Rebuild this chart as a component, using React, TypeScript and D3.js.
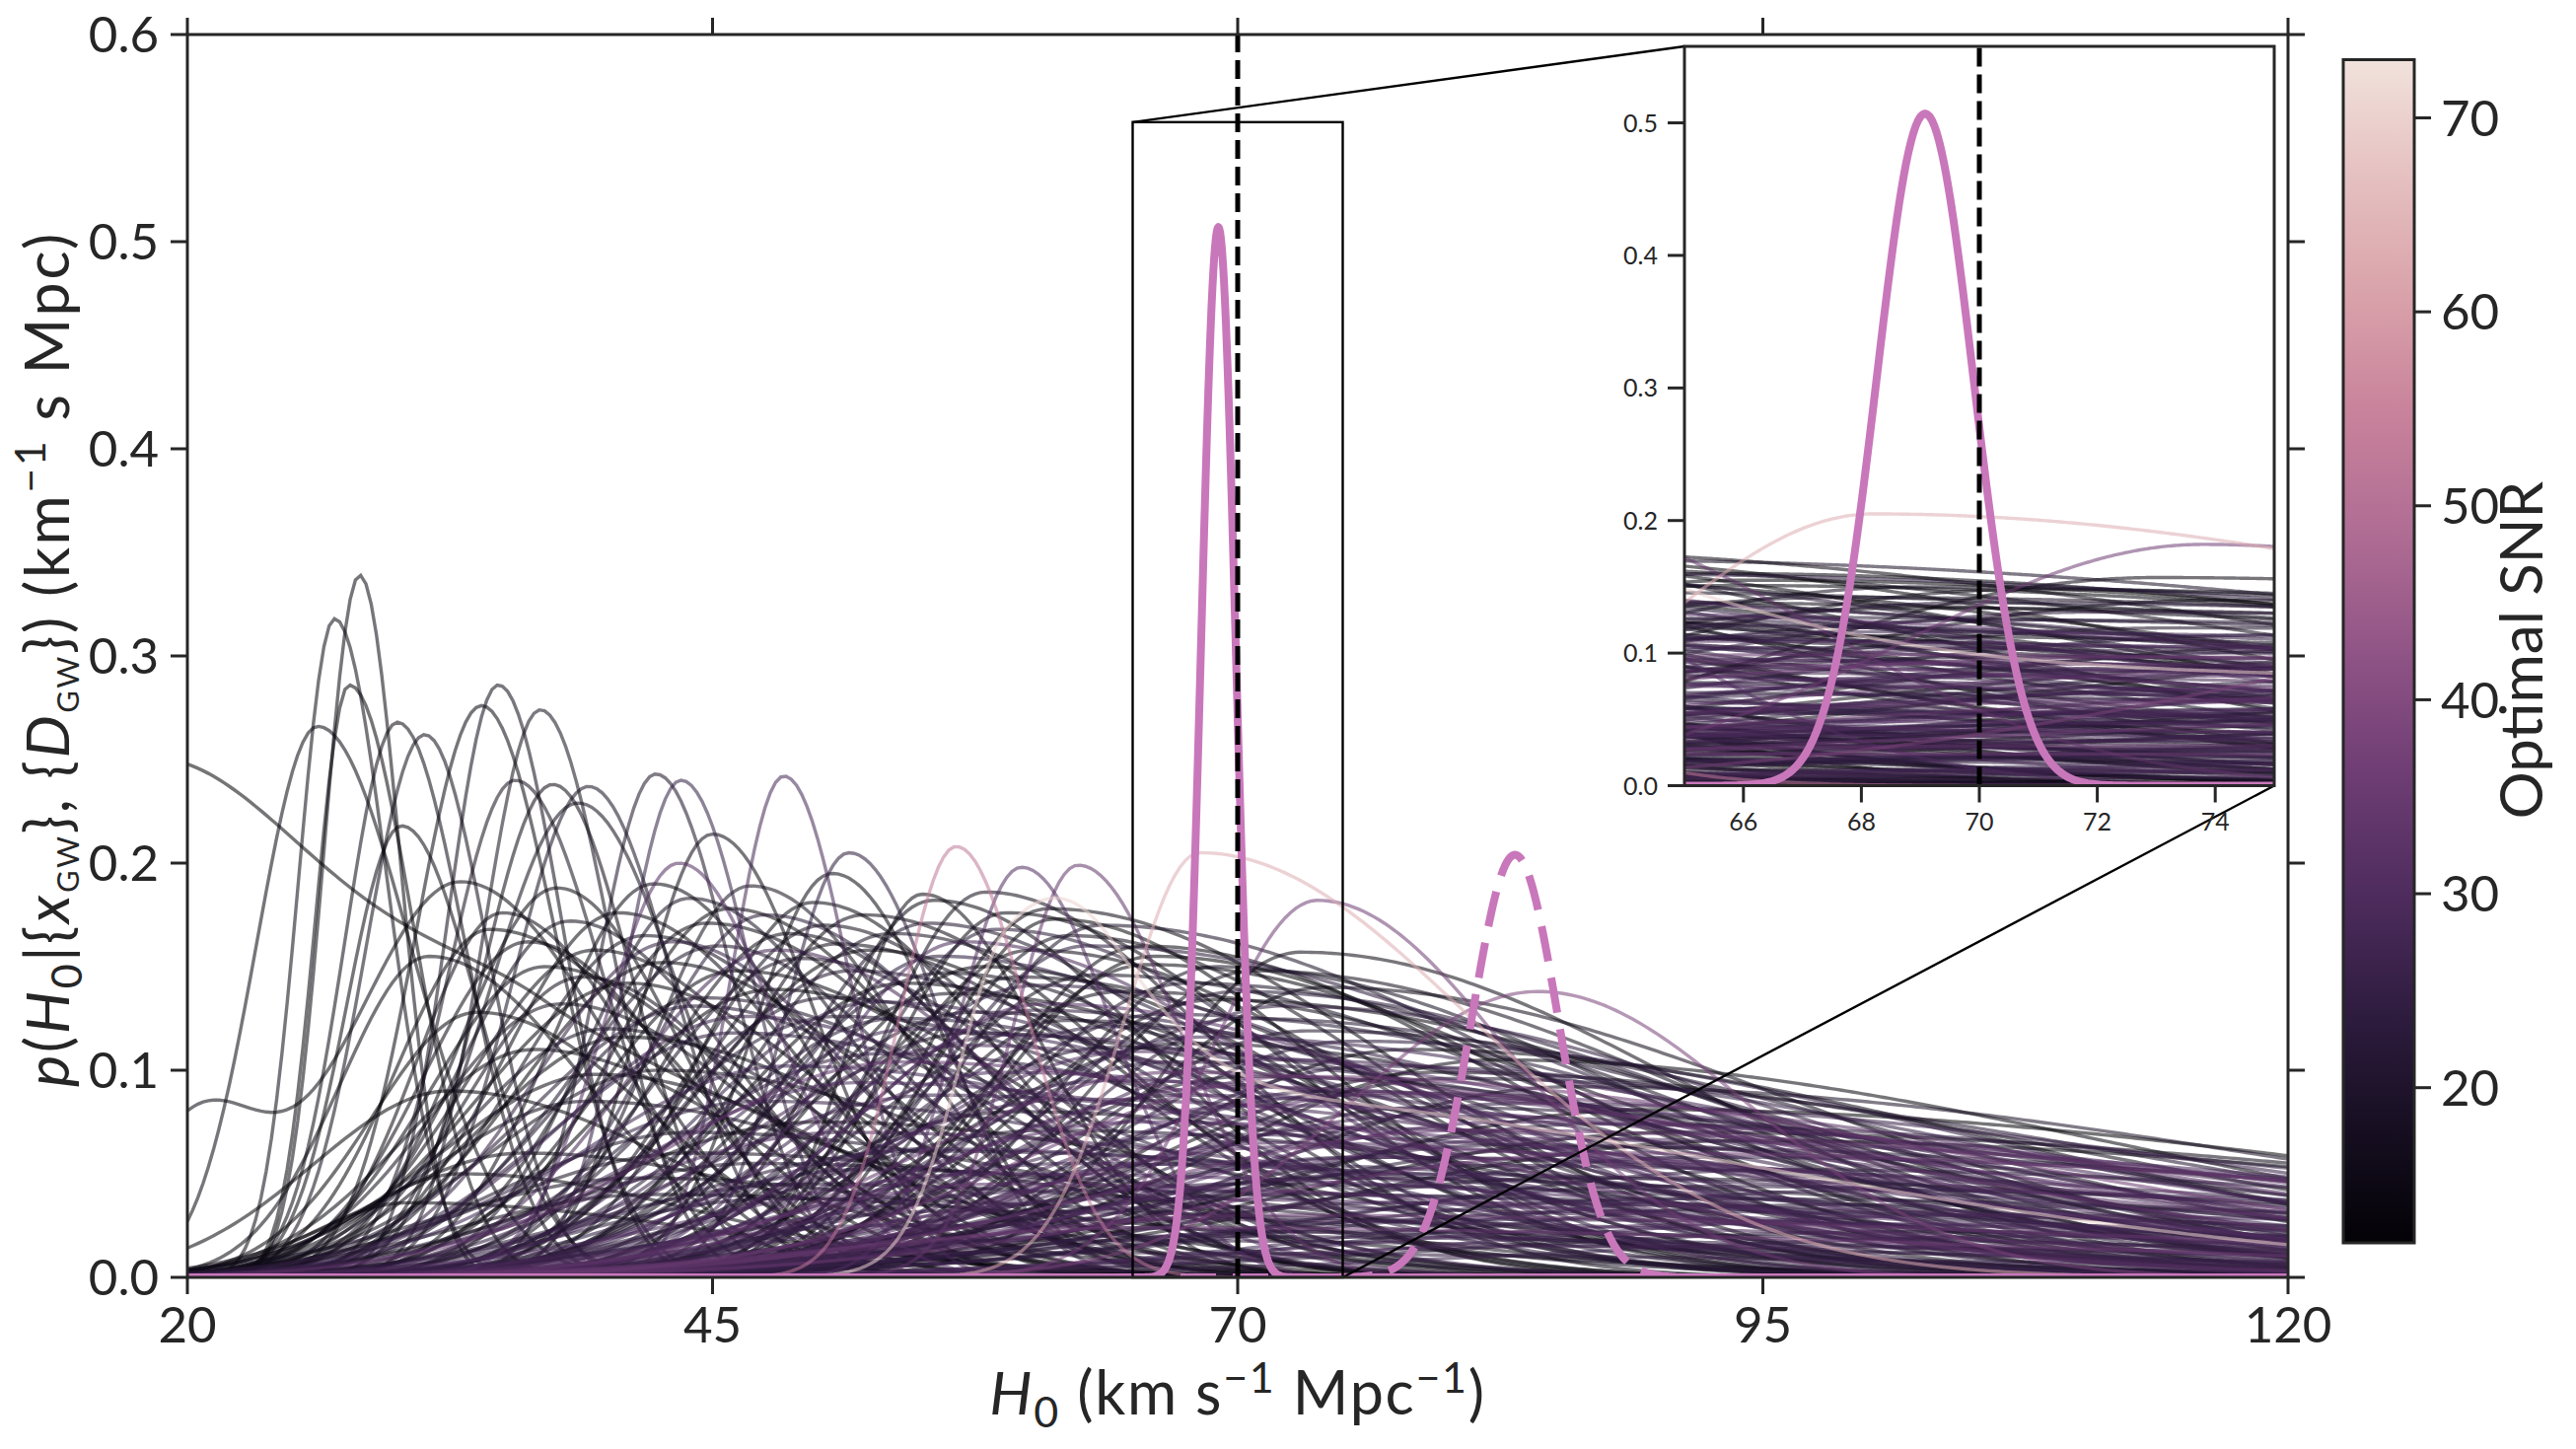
import React from "react";
import * as d3 from "d3";

// ---- figure geometry (px) ----
const W = 2612;
const H = 1469;
const frame = { left: 190, right: 2320, top: 35, bottom: 1295 };
const insetFrame = { left: 1708, right: 2306, top: 47, bottom: 796.5 };
const cbar = { left: 2376, right: 2448, top: 60.5, bottom: 1260 };

const ink = "#262626";
const font = "Lato, 'Liberation Sans', sans-serif";

// ---- axes ----
const h0Domain = [20, 120];
const pDomain = [0, 0.6];
const xTicks = [20, 45, 70, 95, 120];
const yTicks = [0, 0.1, 0.2, 0.3, 0.4, 0.5, 0.6];
const zoomWindow = [65, 75];
const insetPMax = 0.5577;
const insetXTicks = [66, 68, 70, 72, 74];
const insetYTicks = [0, 0.1, 0.2, 0.3, 0.4, 0.5];
const trueH0 = 70;

// ---- colour bar ----
const snrDomain = [12, 73];
const snrTicks = [20, 30, 40, 50, 60, 70];
const snrPalette = [
  "#030206", "#170f22", "#301d41", "#502d5f", "#6f3e74", "#905486",
  "#b06d94", "#c8829b", "#d9a2aa", "#e5c0c0", "#f1e2dc",
];

// ---- combined posteriors: [centre, peak, sigma] ----
const combined = [69.08, 0.507, 0.82];
const combinedBiased = [83.2, 0.204, 2.08];
const pink = "#c977bb";

// ---- single-event posteriors ----
// [centre, peak, left width, right width, optimal SNR]
const lowH0Peaks = [
  [28.2, 0.339, 1.7, 1.9, 13],
  [27.0, 0.318, 1.7, 2.5, 14],
  [27.7, 0.286, 1.6, 3.0, 12],
  [26.2, 0.266, 2.9, 4.4, 13],
  [30.0, 0.268, 2.5, 3.2, 14],
  [31.3, 0.262, 2.8, 3.0, 15],
  [34.8, 0.286, 2.4, 3.0, 15],
  [34.0, 0.276, 3.1, 3.5, 13],
  [36.8, 0.274, 2.7, 3.3, 16],
  [30.2, 0.218, 2.6, 3.6, 13],
  [35.6, 0.24, 3.2, 4.2, 16],
  [37.4, 0.238, 3.4, 3.8, 14],
  [39.1, 0.237, 3.6, 4.0, 17],
  [38.6, 0.229, 4.2, 4.8, 15],
  [42.3, 0.243, 2.8, 3.6, 18],
  [43.5, 0.24, 2.7, 3.4, 24],
  [48.4, 0.242, 2.5, 3.1, 28],
  [45.0, 0.214, 3.4, 4.8, 14],
  [51.5, 0.205, 3.1, 4.4, 22],
  [50.7, 0.195, 3.8, 5.2, 13],
  [43.4, 0.2, 3.6, 4.7, 30],
  [37.6, 0.188, 4.6, 5.8, 13],
  [55.0, 0.185, 3.5, 5.7, 14],
  [59.7, 0.198, 3.1, 4.4, 30],
  [62.4, 0.199, 3.1, 4.8, 33],
];

const loudEvents = [
  [56.6, 0.208, 2.7, 3.4, 52],
  [68.2, 0.205, 3.6, 13, 63],
  [73.8, 0.182, 5.0, 9, 36],
  [84.3, 0.138, 9, 10, 38],
];

// events whose posterior has more than one bump: SNR, then [centre, peak, left, right] parts
const multiBump = [
  { snr: 12, parts: [[18, 0.248, 5, 9.5], [37, 0.1, 7, 14]] },
  { snr: 13, parts: [[20.5, 0.073, 3, 3], [33.0, 0.191, 5.2, 7]] },
  { snr: 70, parts: [[59.0, 0.12, 2.4, 5], [64, 0.09, 4.5, 30]] },
];

const midPeaks = [
  [40.5, 0.176, 5.4, 8.5, 13], [41.8, 0.165, 6.0, 9.5, 15], [42.6, 0.152, 6.8, 10.5, 12],
  [43.9, 0.183, 4.9, 8.0, 17], [44.7, 0.171, 5.8, 11.0, 14], [45.3, 0.16, 7.0, 9.0, 19],
  [46.1, 0.148, 6.6, 12.5, 13], [46.8, 0.189, 4.6, 7.5, 16], [47.5, 0.175, 5.6, 10.0, 21],
  [47.9, 0.139, 7.8, 13.0, 12], [48.6, 0.166, 6.1, 9.5, 15], [49.2, 0.154, 7.0, 11.5, 18],
  [49.8, 0.181, 5.3, 8.8, 13], [39.4, 0.158, 6.0, 9.0, 14], [41.0, 0.142, 7.2, 10.0, 12],
  [42.2, 0.19, 4.8, 7.0, 13], [44.2, 0.131, 8.0, 12.0, 20], [45.8, 0.178, 5.6, 9.2, 12],
  [38.2, 0.172, 5.1, 7.8, 15], [43.1, 0.162, 6.4, 8.6, 23], [46.5, 0.126, 8.4, 14.0, 25],
  [48.0, 0.158, 7.0, 10.8, 27], [50.3, 0.17, 6.2, 10.2, 16], [37.0, 0.15, 5.4, 9.5, 13],
  [36.2, 0.162, 4.9, 7.2, 14], [40.0, 0.12, 6.8, 11.0, 17],
];

const centralPeaks = [
  [50.9, 0.161, 6.6, 13.0, 15], [51.6, 0.148, 7.4, 15.5, 20], [52.2, 0.175, 6.0, 12.0, 14],
  [52.8, 0.133, 8.2, 18.0, 24], [53.5, 0.166, 6.8, 14.0, 17], [54.1, 0.142, 7.8, 16.5, 13],
  [54.6, 0.12, 9.0, 20.0, 26], [55.2, 0.171, 6.3, 13.5, 19], [55.8, 0.155, 7.1, 17.0, 22],
  [56.3, 0.137, 8.4, 19.0, 15], [56.9, 0.162, 6.6, 15.0, 28], [57.4, 0.128, 8.9, 21.0, 18],
  [57.9, 0.15, 7.6, 16.0, 13], [58.5, 0.168, 6.0, 14.5, 21], [59.1, 0.117, 9.7, 23.0, 25],
  [59.6, 0.145, 7.9, 18.5, 16], [60.2, 0.158, 7.0, 16.0, 14], [60.8, 0.132, 8.6, 20.5, 30],
  [61.3, 0.173, 5.7, 12.5, 12], [61.9, 0.124, 9.4, 22.0, 19], [53.0, 0.108, 9.9, 22.0, 23],
  [55.5, 0.182, 5.2, 10.5, 13], [57.0, 0.112, 10.4, 24.0, 27], [58.0, 0.186, 5.0, 11.0, 15],
  [51.0, 0.126, 8.8, 17.0, 21], [52.5, 0.158, 7.7, 12.5, 12], [54.0, 0.104, 11.0, 25.0, 32],
  [56.0, 0.147, 8.2, 15.0, 17], [59.0, 0.176, 5.5, 13.0, 13], [60.5, 0.141, 8.8, 19.0, 24],
  [62.0, 0.165, 6.6, 15.0, 16], [61.0, 0.178, 5.9, 16.0, 14], [63.5, 0.17, 6.6, 20.0, 18],
  [62.8, 0.16, 7.1, 24.0, 22],
];

const highH0Peaks = [
  [63.2, 0.146, 8.2, 22.0, 17], [63.8, 0.121, 9.9, 26.0, 24], [64.5, 0.138, 9.0, 24.0, 15],
  [65.1, 0.109, 11.0, 29.0, 29], [65.7, 0.151, 7.7, 20.0, 13], [66.4, 0.127, 9.7, 27.0, 21],
  [67.0, 0.099, 12.1, 31.0, 33], [67.6, 0.142, 8.4, 23.0, 18], [68.3, 0.116, 10.6, 28.0, 26],
  [68.9, 0.134, 9.2, 25.0, 14], [69.5, 0.092, 13.2, 33.0, 31], [70.2, 0.125, 9.9, 26.0, 20],
  [70.8, 0.148, 7.9, 21.0, 16], [71.5, 0.105, 11.6, 30.0, 27], [72.1, 0.131, 9.5, 24.0, 23],
  [72.8, 0.097, 12.6, 32.0, 35], [73.4, 0.119, 10.3, 27.0, 19], [74.1, 0.14, 8.6, 22.5, 15],
  [74.8, 0.088, 13.8, 34.0, 28], [75.5, 0.114, 11.2, 29.0, 22], [66.0, 0.155, 7.3, 18.0, 12],
  [69.0, 0.15, 7.5, 19.5, 17], [71.0, 0.083, 14.3, 35.0, 30], [64.0, 0.095, 12.1, 30.0, 25],
  [67.5, 0.113, 10.8, 24.0, 16], [73.0, 0.157, 6.8, 18.0, 14], [65.5, 0.16, 7.0, 17.0, 13],
  [70.0, 0.138, 8.8, 23.0, 21],
];

const tailPeaks = [
  [76.4, 0.102, 12.1, 30.0, 24], [77.2, 0.089, 13.8, 34.0, 31], [78.1, 0.11, 11.6, 28.0, 14],
  [79.0, 0.078, 15.4, 38.0, 27], [80.2, 0.096, 13.2, 33.0, 20], [81.1, 0.071, 16.5, 42.0, 33],
  [82.3, 0.105, 12.7, 30.0, 13], [83.5, 0.084, 14.9, 36.0, 25], [84.6, 0.067, 17.6, 44.0, 29],
  [85.8, 0.092, 14.1, 35.0, 18], [87.0, 0.074, 16.0, 40.0, 23], [88.3, 0.06, 18.7, 45.0, 34],
  [89.5, 0.081, 16.5, 38.0, 12], [91.0, 0.07, 17.6, 42.0, 15], [92.5, 0.058, 19.8, 44.0, 26],
  [94.0, 0.066, 18.7, 40.0, 13], [79.5, 0.099, 13.0, 31.0, 16], [86.5, 0.063, 17.0, 43.0, 21],
  [83.0, 0.075, 15.4, 37.0, 30], [96.0, 0.052, 19.8, 40.0, 22],
];

const flatPosteriors = [
  [55.0, 0.062, 9.9, 30.0, 26], [58.5, 0.045, 11.0, 35.0, 31], [61.0, 0.071, 12.1, 28.0, 20],
  [64.5, 0.038, 13.2, 40.0, 28], [68.0, 0.055, 14.3, 33.0, 24], [71.5, 0.03, 15.4, 45.0, 33],
  [74.5, 0.048, 13.8, 38.0, 19], [78.0, 0.036, 16.5, 48.0, 27], [52.0, 0.052, 9.4, 26.0, 22],
  [66.0, 0.024, 14.3, 42.0, 35], [59.5, 0.08, 10.5, 24.0, 17], [72.0, 0.065, 12.7, 30.0, 29],
  [63.0, 0.02, 11.0, 50.0, 24], [76.0, 0.058, 14.9, 36.0, 21],
];

const earlyBroad = [
  [31.5, 0.155, 4.2, 7.5, 13], [33.8, 0.128, 5.0, 8.5, 12], [35.0, 0.176, 4.0, 6.5, 14],
  [36.5, 0.11, 6.2, 10.5, 13], [38.8, 0.145, 5.4, 8.0, 15], [32.5, 0.09, 6.5, 11.0, 12],
  [39.5, 0.098, 7.5, 12.0, 14], [34.4, 0.168, 4.4, 9.0, 12], [37.8, 0.132, 6.0, 9.5, 16],
  [40.8, 0.116, 7.0, 13.0, 13], [33.0, 0.05, 5.0, 12.0, 13], [30.5, 0.036, 4.5, 15.0, 12],
  [36.0, 0.06, 7.0, 14.0, 14], [41.5, 0.048, 9.5, 18.0, 17], [39.0, 0.085, 7.5, 15.0, 15],
];

const purpleBulk = [
  [46.0, 0.118, 8.5, 18.0, 22], [48.5, 0.102, 9.5, 22.0, 26], [50.5, 0.135, 7.8, 16.0, 19],
  [52.0, 0.094, 10.5, 26.0, 28], [53.8, 0.125, 8.6, 20.0, 21], [55.6, 0.088, 11.0, 28.0, 25],
  [57.3, 0.118, 9.2, 23.0, 18], [58.8, 0.099, 10.2, 27.0, 29], [60.4, 0.129, 8.4, 21.5, 23],
  [62.2, 0.086, 11.8, 30.0, 27], [63.9, 0.111, 9.6, 25.0, 20], [65.3, 0.075, 12.4, 33.0, 30],
  [66.8, 0.104, 10.4, 27.5, 24], [68.6, 0.069, 13.2, 36.0, 26], [70.5, 0.097, 11.2, 29.0, 19],
  [72.4, 0.063, 14.0, 38.0, 31], [74.2, 0.09, 12.0, 31.0, 23], [76.8, 0.058, 15.2, 41.0, 28],
  [78.9, 0.082, 13.0, 34.0, 21], [81.5, 0.054, 16.5, 45.0, 25], [44.5, 0.135, 7.0, 14.0, 18],
  [47.2, 0.085, 10.0, 24.0, 24], [51.2, 0.07, 11.0, 30.0, 27], [54.8, 0.061, 12.0, 35.0, 22],
  [58.2, 0.05, 13.0, 40.0, 29], [61.7, 0.042, 14.0, 46.0, 26], [49.0, 0.045, 10.0, 28.0, 20],
  [56.5, 0.032, 12.0, 36.0, 23], [64.8, 0.028, 14.0, 44.0, 27], [71.8, 0.04, 15.0, 40.0, 21],
  [86.0, 0.048, 17.0, 42.0, 19], [90.5, 0.044, 18.0, 46.0, 24], [100.0, 0.042, 20.0, 40.0, 26],
  [98.0, 0.035, 19.0, 45.0, 22], [105.0, 0.03, 22.0, 40.0, 28], [42.5, 0.1, 8.0, 16.0, 16],
  [44.0, 0.07, 9.0, 20.0, 18], [67.3, 0.088, 11.5, 26.0, 25], [75.2, 0.072, 13.5, 33.0, 27],
  [82.8, 0.064, 15.5, 38.0, 23],
];

const faintPosteriors = [
  [48.0, 0.038, 9.0, 30.0, 21], [53.0, 0.025, 10.0, 40.0, 25], [60.0, 0.018, 12.0, 45.0, 23],
  [67.0, 0.034, 13.0, 42.0, 27], [73.0, 0.022, 14.0, 48.0, 22], [80.0, 0.028, 16.0, 50.0, 26],
  [88.0, 0.032, 18.0, 45.0, 24], [95.0, 0.026, 20.0, 50.0, 28], [102.0, 0.022, 22.0, 40.0, 21],
  [110.0, 0.02, 24.0, 35.0, 25], [57.0, 0.012, 11.0, 50.0, 23], [85.0, 0.015, 17.0, 55.0, 27],
  [44.0, 0.06, 9.5, 22.0, 16], [47.0, 0.055, 10.0, 26.0, 19], [50.0, 0.075, 10.5, 22.0, 14],
  [42.0, 0.04, 9.0, 25.0, 15], [62.0, 0.055, 12.5, 38.0, 26], [70.0, 0.045, 14.5, 42.0, 22],
  [77.0, 0.05, 15.5, 40.0, 25], [91.0, 0.038, 19.0, 48.0, 21],
];

type Part = number[];
const evalParts = (parts: Part[], h0: number) =>
  d3.sum(parts, ([c, p, wl, wr]) => p * Math.exp(-0.5 * ((h0 - c) / (h0 < c ? wl : wr)) ** 2));

const events = [
  ...[
    lowH0Peaks, loudEvents, midPeaks, centralPeaks, highH0Peaks,
    tailPeaks, flatPosteriors, earlyBroad, purpleBulk, faintPosteriors,
  ]
    .flat()
    .map(([c, p, wl, wr, snr]) => ({ snr, parts: [[c, p, wl, wr]] })),
  ...multiBump,
].sort((a, b) => a.snr - b.snr);

const snrColor = d3
  .scaleLinear<string>()
  .domain(snrPalette.map((_, i) => snrDomain[0] + ((snrDomain[1] - snrDomain[0]) * i) / (snrPalette.length - 1)))
  .range(snrPalette)
  .interpolate(d3.interpolateRgb);

export default function App() {
  const x = d3.scaleLinear().domain(h0Domain).range([frame.left, frame.right]);
  const y = d3.scaleLinear().domain(pDomain).range([frame.bottom, frame.top]);
  const xi = d3.scaleLinear().domain(zoomWindow).range([insetFrame.left, insetFrame.right]);
  const yi = d3.scaleLinear().domain([0, insetPMax]).range([insetFrame.bottom, insetFrame.top]);
  const yc = d3.scaleLinear().domain(snrDomain).range([cbar.bottom, cbar.top]);

  const grid = d3.range(h0Domain[0], h0Domain[1] + 1e-9, 0.25);
  const fineGrid = d3.range(h0Domain[0], h0Domain[1] + 1e-9, 0.04);
  const insetGrid = d3.range(zoomWindow[0], zoomWindow[1] + 1e-9, 0.04);

  const mainLine = d3.line<[number, number]>().x((d) => x(d[0])).y((d) => y(d[1]));
  const insetLine = d3.line<[number, number]>().x((d) => xi(d[0])).y((d) => yi(d[1]));

  const gaussParts = (g: number[]) => [[g[0], g[1], g[2], g[2]]];
  const combinedMain = mainLine(fineGrid.map((h) => [h, evalParts(gaussParts(combined), h)]));
  const biasedMain = mainLine(fineGrid.map((h) => [h, evalParts(gaussParts(combinedBiased), h)]));
  const combinedInset = insetLine(insetGrid.map((h) => [h, evalParts(gaussParts(combined), h)]));

  const tickLen = 17;
  const tickFont = 51;
  const labelFont = 61;

  return (
    <svg
      width={W}
      height={H}
      viewBox={`0 0 ${W} ${H}`}
      style={{ position: "absolute", left: 0, top: 0, background: "#fff" }}
      fontFamily={font}
    >
      <defs>
        <clipPath id="mainClip">
          <rect x={frame.left} y={frame.top} width={frame.right - frame.left} height={frame.bottom - frame.top} />
        </clipPath>
        <clipPath id="insetClip">
          <rect
            x={insetFrame.left}
            y={insetFrame.top}
            width={insetFrame.right - insetFrame.left}
            height={insetFrame.bottom - insetFrame.top}
          />
        </clipPath>
        <linearGradient id="snrGrad" x1="0" y1="1" x2="0" y2="0">
          {snrPalette.map((c, i) => (
            <stop key={i} offset={i / (snrPalette.length - 1)} stopColor={c} />
          ))}
        </linearGradient>
      </defs>

      {/* main panel */}
      <g clipPath="url(#mainClip)">
        {events.map((e, i) => (
          <path
            key={i}
            d={mainLine(grid.map((h) => [h, evalParts(e.parts, h)])) || ""}
            fill="none"
            stroke={snrColor(e.snr)}
            strokeOpacity={0.55}
            strokeWidth={3.4}
          />
        ))}
        <path d={combinedMain || ""} fill="none" stroke={pink} strokeWidth={8} strokeLinejoin="round" />
        <path d={biasedMain || ""} fill="none" stroke={pink} strokeWidth={8} strokeDasharray="36 17" />
        <line x1={x(trueH0)} x2={x(trueH0)} y1={y(0)} y2={frame.top} stroke="#000" strokeWidth={5} strokeDasharray="19 8" />
      </g>

      {/* zoom indicator */}
      <rect
        x={x(zoomWindow[0])}
        y={y(insetPMax)}
        width={x(zoomWindow[1]) - x(zoomWindow[0])}
        height={y(0) - y(insetPMax)}
        fill="none"
        stroke="#000"
        strokeWidth={2.4}
      />
      <line x1={x(zoomWindow[0])} y1={y(insetPMax)} x2={insetFrame.left} y2={insetFrame.top} stroke="#000" strokeWidth={2.4} />
      <line x1={x(zoomWindow[1])} y1={y(0)} x2={insetFrame.right} y2={insetFrame.bottom} stroke="#000" strokeWidth={2.4} />

      {/* main spines and ticks */}
      <rect
        x={frame.left}
        y={frame.top}
        width={frame.right - frame.left}
        height={frame.bottom - frame.top}
        fill="none"
        stroke={ink}
        strokeWidth={3}
      />
      {xTicks.map((t) => (
        <g key={`x${t}`} stroke={ink} strokeWidth={3}>
          <line x1={x(t)} x2={x(t)} y1={frame.bottom} y2={frame.bottom + tickLen} />
          <line x1={x(t)} x2={x(t)} y1={frame.top} y2={frame.top - tickLen} />
        </g>
      ))}
      {yTicks.map((t) => (
        <g key={`y${t}`} stroke={ink} strokeWidth={3}>
          <line x1={frame.left - tickLen} x2={frame.left} y1={y(t)} y2={y(t)} />
          <line x1={frame.right} x2={frame.right + tickLen} y1={y(t)} y2={y(t)} />
        </g>
      ))}
      {xTicks.map((t) => (
        <text key={`xl${t}`} x={x(t)} y={1361} textAnchor="middle" fontSize={tickFont} fill={ink}>
          {t}
        </text>
      ))}
      {yTicks.map((t) => (
        <text key={`yl${t}`} x={161} y={y(t)} dy="0.36em" textAnchor="end" fontSize={tickFont} fill={ink}>
          {t.toFixed(1)}
        </text>
      ))}

      {/* axis labels */}
      <text
        x={1255}
        y={1434}
        textAnchor="middle"
        fontSize={labelFont}
        letterSpacing={1.7}
        fill={ink}
        style={{ whiteSpace: "pre" }}
      >
        <tspan fontStyle="italic">H</tspan>
        <tspan fontSize={43} dy={13}>0</tspan>
        <tspan dy={-13}> (km s</tspan>
        <tspan fontSize={43} dy={-22}>−1</tspan>
        <tspan dy={22}> Mpc</tspan>
        <tspan fontSize={43} dy={-22}>−1</tspan>
        <tspan dy={22}>)</tspan>
      </text>
      <text
        transform="translate(70,668) rotate(-90)"
        textAnchor="middle"
        fontSize={labelFont}
        letterSpacing={2.6}
        fill={ink}
        style={{ whiteSpace: "pre" }}
      >
        <tspan fontStyle="italic">p</tspan>
        <tspan>(</tspan>
        <tspan fontStyle="italic">H</tspan>
        <tspan fontSize={43} dy={13}>0</tspan>
        <tspan dy={-13}>|{"{"}</tspan>
        <tspan fontStyle="italic">x</tspan>
        <tspan fontSize={31} dy={10}>GW</tspan>
        <tspan dy={-10}>{"}, {"}</tspan>
        <tspan fontStyle="italic">D</tspan>
        <tspan fontSize={31} dy={10}>GW</tspan>
        <tspan dy={-10}>{"}) (km"}</tspan>
        <tspan fontSize={43} dy={-24}>−1</tspan>
        <tspan dy={24}> s Mpc)</tspan>
      </text>

      {/* inset panel */}
      <rect
        x={insetFrame.left}
        y={insetFrame.top}
        width={insetFrame.right - insetFrame.left}
        height={insetFrame.bottom - insetFrame.top}
        fill="#fff"
      />
      <g clipPath="url(#insetClip)">
        {events.map((e, i) => (
          <path
            key={i}
            d={insetLine(insetGrid.map((h) => [h, evalParts(e.parts, h)])) || ""}
            fill="none"
            stroke={snrColor(e.snr)}
            strokeOpacity={0.55}
            strokeWidth={3.4}
          />
        ))}
        <path d={combinedInset || ""} fill="none" stroke={pink} strokeWidth={8} strokeLinejoin="round" />
        <line
          x1={xi(trueH0)}
          x2={xi(trueH0)}
          y1={yi(0)}
          y2={insetFrame.top}
          stroke="#000"
          strokeWidth={5}
          strokeDasharray="19 8"
        />
      </g>
      <rect
        x={insetFrame.left}
        y={insetFrame.top}
        width={insetFrame.right - insetFrame.left}
        height={insetFrame.bottom - insetFrame.top}
        fill="none"
        stroke={ink}
        strokeWidth={3}
      />
      {insetXTicks.map((t) => (
        <g key={`ix${t}`}>
          <line x1={xi(t)} x2={xi(t)} y1={insetFrame.bottom} y2={insetFrame.bottom + tickLen} stroke={ink} strokeWidth={3} />
          <text x={xi(t)} y={842} textAnchor="middle" fontSize={25} fill={ink}>
            {t}
          </text>
        </g>
      ))}
      {insetYTicks.map((t) => (
        <g key={`iy${t}`}>
          <line x1={insetFrame.left - tickLen} x2={insetFrame.left} y1={yi(t)} y2={yi(t)} stroke={ink} strokeWidth={3} />
          <text x={1681} y={yi(t)} dy="0.36em" textAnchor="end" fontSize={25} fill={ink}>
            {t.toFixed(1)}
          </text>
        </g>
      ))}

      {/* colour bar */}
      <rect
        x={cbar.left}
        y={cbar.top}
        width={cbar.right - cbar.left}
        height={cbar.bottom - cbar.top}
        fill="url(#snrGrad)"
        stroke={ink}
        strokeWidth={3}
      />
      {snrTicks.map((t) => (
        <g key={`c${t}`}>
          <line x1={cbar.right} x2={cbar.right + tickLen} y1={yc(t)} y2={yc(t)} stroke={ink} strokeWidth={3} />
          <text x={2475} y={yc(t)} dy="0.36em" fontSize={tickFont} fill={ink}>
            {t}
          </text>
        </g>
      ))}
      <text transform="translate(2578,659) rotate(-90)" textAnchor="middle" fontSize={60} fill={ink}>
        Optimal SNR
      </text>
    </svg>
  );
}
